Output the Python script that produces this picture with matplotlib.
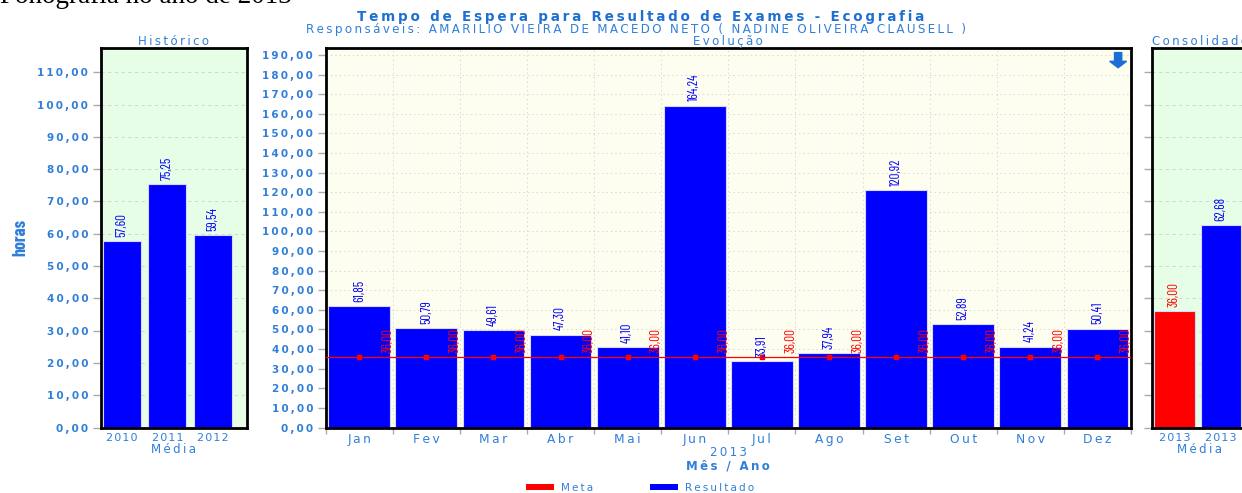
import matplotlib
matplotlib.use("Agg")
import matplotlib.pyplot as plt
from matplotlib.patches import Patch, Polygon
from matplotlib.ticker import FixedLocator, FuncFormatter

# ---------------- data ----------------
hist_labels = ['2010', '2011', '2012']
hist_values = [57.60, 75.25, 59.54]

months = ['Jan', 'Fev', 'Mar', 'Abr', 'Mai', 'Jun', 'Jul', 'Ago', 'Set', 'Out', 'Nov', 'Dez']
results = [61.85, 50.79, 49.61, 47.30, 41.10, 164.24, 33.91, 37.94, 120.92, 52.89, 41.24, 50.41]
meta = [36.00, 36.00, 36.00, 36.00, 36.00, 36.00, 36.00, 36.00, 36.00, 36.00, 36.00, 36.00]

consol_labels = ['2013', '2013']
consol_values = [36.00, 62.68]

hist_yticks = [0, 10, 20, 30, 40, 50, 60, 70, 80, 90, 100, 110]
evo_yticks = list(range(0, 200, 10))

# ---------------- style ----------------
BLUE_TXT = '#2f7fd8'
TITLE_BLUE = '#1f6fd0'
BAR_BLUE = '#0000ff'
BAR_RED = '#ff0000'
EDGE = '#d8d8ff'
NARROW = ['Barlow Condensed', 'Archivo Narrow', 'DejaVu Sans']
TS = '\u2009'
HS = '\u200a'


def sp(s, gap=TS):
    return gap.join(s)


def fmt(v):
    return f"{v:.2f}".replace('.', ',')


W, H = 1242, 493
fig = plt.figure(figsize=(W / 100, H / 100), dpi=100)


def ax_rect(x0, y0, x1, y1):
    return [x0 / W, 1 - y1 / H, (x1 - x0) / W, (y1 - y0) / H]


def style_axes(ax, face, yticks, show_labels=True):
    ax.set_facecolor(face)
    for s in ax.spines.values():
        s.set_color('black')
        s.set_linewidth(2)
    ax.yaxis.set_major_locator(FixedLocator(yticks))
    if show_labels:
        ax.yaxis.set_major_formatter(FuncFormatter(lambda v, p: sp(fmt(v))))
    else:
        ax.yaxis.set_major_formatter(FuncFormatter(lambda v, p: ''))
    ax.tick_params(axis='y', length=6, color='#aaaaaa', width=1, pad=3,
                   labelsize=7.5, labelcolor=BLUE_TXT)
    for lab in ax.get_yticklabels():
        lab.set_fontweight('bold')
    ax.tick_params(axis='x', length=0, pad=4, labelsize=8, labelcolor=BLUE_TXT)
    ax.set_axisbelow(True)


def panel_title(ax, s):
    ax.text(0.5, 1.0085, sp(s), transform=ax.transAxes, ha='center', va='baseline',
            color=BLUE_TXT, fontsize=8.5, clip_on=False, zorder=10)


# ---------------- Histórico ----------------
ax1 = fig.add_axes(ax_rect(100.7, 48, 246.7, 427.5))
style_axes(ax1, '#e6fde6', hist_yticks)
x1 = list(range(len(hist_labels)))
ax1.bar(x1, hist_values, width=0.84, color=BAR_BLUE, edgecolor=EDGE, linewidth=0.8)
ax1.set_xlim(-0.464, 2.745)
ax1.set_ylim(0, 117.5)
ax1.set_xticks(x1)
ax1.set_xticklabels([sp(t, HS) for t in hist_labels])
ax1.grid(axis='y', color='#d0d0d0', linestyle=(0, (4, 4)), linewidth=0.6)
for xi, v in zip(x1, hist_values):
    ax1.text(xi, v + 1.4, fmt(v), rotation=90, ha='center', va='bottom',
             color=BAR_BLUE, fontsize=9.5, family=NARROW)
ax1.set_xlabel(sp('Média'), color=BLUE_TXT, fontsize=8.5, labelpad=0)
ax1.set_ylabel('horas', color=BLUE_TXT, fontsize=13, fontweight='bold',
               family=NARROW, labelpad=6)
panel_title(ax1, 'Histórico')

# ---------------- Evolução ----------------
ax2 = fig.add_axes(ax_rect(325.7, 48, 1131.0, 427.5))
style_axes(ax2, '#fefef0', evo_yticks)
x2 = list(range(len(months)))
ax2.bar(x2, results, width=0.92, color=BAR_BLUE, edgecolor=EDGE, linewidth=0.8, zorder=2)
ax2.set_xlim(-0.5, 11.5)
ax2.set_ylim(0, 193.6)
ax2.set_xticks(x2)
ax2.set_xticklabels([sp(m) for m in months], fontsize=8.8)
ax2.set_xticks([i + 0.5 for i in range(-1, 12)], minor=True)
ax2.tick_params(axis='x', which='minor', length=4, color='#aaaaaa', width=1)
ax2.grid(axis='y', which='major', color='#d8d8d8', linestyle=(0, (1.5, 3)), linewidth=0.7)
ax2.grid(axis='x', which='minor', color='#d8d8d8', linestyle=(0, (1.5, 3)), linewidth=0.7)
ax2.axhline(meta[0], color=BAR_RED, linewidth=0.9, zorder=3)
ax2.plot(x2, meta, linestyle='none', marker='s', markersize=3.5, color=BAR_RED, zorder=4)
for xi, v in zip(x2, results):
    ax2.text(xi, v + 2.2, fmt(v), rotation=90, ha='center', va='bottom',
             color=BAR_BLUE, fontsize=9.5, family=NARROW, zorder=5)
for xi, m in zip(x2, meta):
    ax2.text(xi + 0.43, m + 2.2, fmt(m), rotation=90, ha='center', va='bottom',
             color=BAR_RED, fontsize=9.5, family=NARROW, zorder=5)
ax2.text(0.5, -0.067, sp('2013'), transform=ax2.transAxes, ha='center', va='center',
         color=BLUE_TXT, fontsize=8.5)
ax2.set_xlabel(sp('Mês / Ano'), color=BLUE_TXT, fontsize=8.5, fontweight='bold', labelpad=10)
panel_title(ax2, 'Evolução')
# download arrow icon
arrow = Polygon([[0.9795, 0.988], [0.9885, 0.988], [0.9885, 0.965], [0.9945, 0.965],
                 [0.984, 0.948], [0.9735, 0.965], [0.9795, 0.965]],
                closed=True, transform=ax2.transAxes, color='#1a6fd6', zorder=6)
ax2.add_patch(arrow)

# ---------------- Consolidado ----------------
ax3 = fig.add_axes(ax_rect(1151.7, 48, 1248, 427.5))
style_axes(ax3, '#e6fde6', hist_yticks, show_labels=False)
x3 = list(range(len(consol_labels)))
ax3.bar(x3, consol_values, width=0.88, color=[BAR_RED, BAR_BLUE], edgecolor=EDGE, linewidth=0.8)
ax3.set_xlim(-0.49, 1.58)
ax3.set_ylim(0, 117.5)
ax3.set_xticks(x3)
ax3.set_xticklabels([sp(t, HS) for t in consol_labels])
ax3.grid(axis='y', color='#d0d0d0', linestyle=(0, (4, 4)), linewidth=0.6)
for xi, v, c in zip(x3, consol_values, [BAR_RED, BAR_BLUE]):
    ax3.text(xi, v + 1.4, fmt(v), rotation=90, ha='center', va='bottom',
             color=c, fontsize=9.5, family=NARROW)
ax3.set_xlabel(sp('Média'), color=BLUE_TXT, fontsize=8.5, labelpad=0)
panel_title(ax3, 'Consolidado')

# ---------------- titles ----------------
fig.text(641 / W, 1 - 17 / H, sp('Tempo de Espera para Resultado de Exames - Ecografia'),
         ha='center', va='center', color=TITLE_BLUE, fontsize=9.75, fontweight='bold')
fig.text(636 / W, 1 - 30 / H,
         sp('Responsáveis: AMARILIO VIEIRA DE MACEDO NETO ( NADINE OLIVEIRA CLAUSELL )'),
         ha='center', va='center', color=BLUE_TXT, fontsize=8.6)
fig.text(0.0, 1 - 3 / H, 'Fonografia no ano de 2013', ha='left', va='baseline',
         color='black', fontsize=19.5, family=['Liberation Serif', 'DejaVu Serif'])

# ---------------- legend ----------------
handles = [Patch(facecolor=BAR_RED, edgecolor='none', label=sp('Meta')),
           Patch(facecolor=BAR_BLUE, edgecolor='none', label=sp('Resultado'))]
leg = fig.legend(handles=handles, loc='center', bbox_to_anchor=(640 / W, 1 - 488 / H),
                 ncol=2, frameon=False, fontsize=7.5, handlelength=2.7, handleheight=0.55,
                 handletextpad=0.65, columnspacing=5.5, borderpad=0, borderaxespad=0)
for t in leg.get_texts():
    t.set_color(BLUE_TXT)

fig.savefig('out.png', dpi=100)
